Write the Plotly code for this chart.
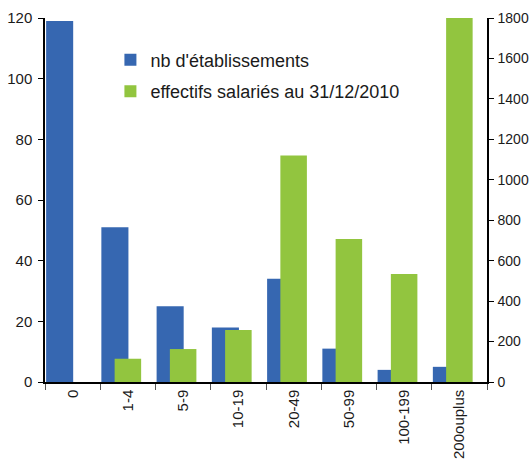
import plotly.graph_objects as go

categories = ["0", "1-4", "5-9", "10-19", "20-49", "50-99", "100-199", "200ouplus"]
nb_etab = [119, 51, 25, 18, 34, 11, 4, 5]
effectifs = [0, 115, 163, 257, 1120, 707, 534, 1800]
left_ticks = [0, 20, 40, 60, 80, 100, 120]
right_ticks = [0, 200, 400, 600, 800, 1000, 1200, 1400, 1600, 1800]

BLUE = "#3667b1"
GREEN = "#92c53f"
FONT = "Liberation Sans, Arial, sans-serif"

fig = go.Figure()
fig.add_trace(go.Bar(
    x=categories, y=nb_etab, name="nb d'établissements",
    marker=dict(color=BLUE, line=dict(width=0)),
    width=0.49, offset=-0.48, yaxis="y", legendgroup="a",
))
fig.add_trace(go.Bar(
    x=categories, y=effectifs, name="effectifs salariés au 31/12/2010",
    marker=dict(color=GREEN, line=dict(width=0)),
    width=0.48, offset=-0.24, yaxis="y2", legendgroup="b",
))

fig.update_layout(
    width=531, height=461,
    margin=dict(l=45, r=44, t=18, b=79, autoexpand=False),
    paper_bgcolor="white", plot_bgcolor="white",
    font=dict(family=FONT, size=14, color="#1a1a1a"),
    barmode="overlay",
    showlegend=True,
    legend=dict(
        x=0.148, y=0.935, xanchor="left", yanchor="top",
        font=dict(size=18, family=FONT, color="#1a1a1a"),
        bgcolor="rgba(0,0,0,0)", tracegroupgap=5, itemwidth=30,
        traceorder="grouped",
    ),
    xaxis=dict(
        type="category", range=[-0.5, 7.5], automargin=False,
        showline=True, linecolor="black", linewidth=1.5,
        ticks="outside", tickson="boundaries", ticklen=6, tickcolor="#555",
        tickangle=-90, tickfont=dict(size=15),
        showgrid=False, zeroline=False,
    ),
    yaxis=dict(
        range=[0, 120], tickvals=left_ticks, automargin=False,
        showline=True, linecolor="black", linewidth=1.5,
        ticks="outside", ticklen=5, tickcolor="black", ticklabelstandoff=3,
        showgrid=False, zeroline=False, tickfont=dict(size=15),
    ),
    yaxis2=dict(
        range=[0, 1800], tickvals=right_ticks, overlaying="y", side="right",
        automargin=False,
        showline=True, linecolor="black", linewidth=1.5,
        ticks="outside", ticklen=5, tickcolor="black", ticklabelstandoff=1,
        showgrid=False, zeroline=False, tickfont=dict(size=14),
    ),
)

fig.write_html(
    "out.html",
    config={"displayModeBar": False},
    post_script="document.body.style.margin='0';document.body.style.padding='0';",
)
